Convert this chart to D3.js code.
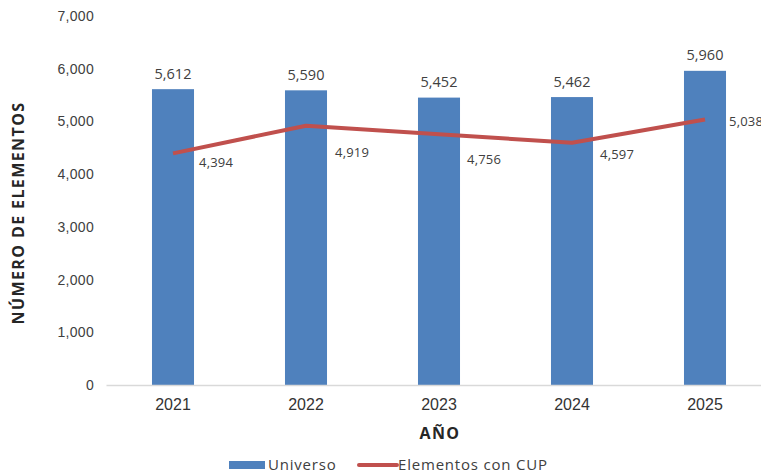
<!DOCTYPE html>
<html>
<head>
<meta charset="utf-8">
<script src="https://cdn.jsdelivr.net/npm/d3@7"></script>
<style>
  html, body { margin: 0; padding: 0; background: #ffffff; }
  svg { display: block; font-family: "Open Sans", "DejaVu Sans", sans-serif; }
</style>
</head>
<body>
<svg id="chart" width="761" height="476"></svg>
<script>
// Chart data
const years = ["2021", "2022", "2023", "2024", "2025"];
const universo = [5612, 5590, 5452, 5462, 5960];
const conCup = [4394, 4919, 4756, 4597, 5038];
const yTicks = [0, 1000, 2000, 3000, 4000, 5000, 6000, 7000];
const seriesNames = ["Universo", "Elementos con CUP"];
const axisTitles = { x: "AÑO", y: "NÚMERO DE ELEMENTOS" };

const svg = d3.select("#chart");
const fmt = d3.format(",");

const x = d3.scaleBand()
  .domain(years)
  .range([106.5, 771.5])
  .paddingInner(0.684)
  .paddingOuter(0.342);

const y = d3.scaleLinear()
  .domain([0, 7000])
  .range([385, 16]);

const blue = "#4F81BD";
const red = "#C0504D";
const textColor = "#404040";

// Y axis (labels only)
const yAxis = svg.append("g")
  .attr("transform", "translate(94,0)")
  .call(d3.axisLeft(y).tickValues(yTicks).tickFormat(fmt).tickSize(0).tickPadding(0));
yAxis.select(".domain").remove();
yAxis.selectAll("text")
  .attr("fill", textColor)
  .style("font-size", "14px")
  .style("letter-spacing", "0.3px");

// Bars
svg.append("g").selectAll("rect")
  .data(years)
  .join("rect")
  .attr("x", d => x(d))
  .attr("width", x.bandwidth())
  .attr("y", (d, i) => y(universo[i]))
  .attr("height", (d, i) => y(0) - y(universo[i]))
  .attr("fill", blue);

// X axis baseline and labels
const xAxis = svg.append("g")
  .attr("transform", `translate(0,${y(0)})`)
  .call(d3.axisBottom(x).tickSize(0).tickPadding(14));
xAxis.select(".domain")
  .attr("stroke", "#d9d9d9")
  .attr("stroke-width", 1.3)
  .attr("d", `M106.5,0.5H761`);
xAxis.selectAll("text")
  .attr("fill", "#333333")
  .style("font-size", "16px")
  .style("font-weight", "normal");

// Bar value labels
svg.append("g").selectAll("text")
  .data(years)
  .join("text")
  .attr("x", d => x(d) + x.bandwidth() / 2)
  .attr("y", (d, i) => y(universo[i]) - 10.5)
  .attr("text-anchor", "middle")
  .attr("fill", textColor)
  .style("font-size", "14.5px")
  .text((d, i) => fmt(universo[i]));

// Line series
const line = d3.line()
  .x((d, i) => x(years[i]) + x.bandwidth() / 2)
  .y(d => y(d));
svg.append("path")
  .datum(conCup)
  .attr("d", line)
  .attr("fill", "none")
  .attr("stroke", red)
  .attr("stroke-width", 4)
  .attr("stroke-linejoin", "round");

// Line value labels, each nudged right of and below its point
const labelDx = [26, 29, 28, 28, 24];
const labelDy = [14, 31, 30, 16, 7];
svg.append("g").selectAll("text")
  .data(conCup)
  .join("text")
  .attr("x", (d, i) => x(years[i]) + x.bandwidth() / 2 + labelDx[i])
  .attr("y", (d, i) => y(d) + labelDy[i])
  .attr("fill", textColor)
  .style("font-size", "13px")
  .style("letter-spacing", "0.2px")
  .text(d => fmt(d));

// Axis titles
svg.append("text")
  .attr("x", 440)
  .attr("y", 439)
  .attr("text-anchor", "middle")
  .attr("fill", "#262626")
  .style("font-size", "16px")
  .style("font-weight", "bold")
  .style("letter-spacing", "1.4px")
  .text(axisTitles.x);

svg.append("text")
  .attr("transform", "translate(24,213) rotate(-90)")
  .attr("text-anchor", "middle")
  .attr("fill", "#262626")
  .style("font-size", "16px")
  .style("font-weight", "bold")
  .style("letter-spacing", "1.4px")
  .text(axisTitles.y);

// Legend
const legend = svg.append("g");
legend.append("rect")
  .attr("x", 229).attr("y", 461).attr("width", 36).attr("height", 8)
  .attr("fill", blue);
legend.append("text")
  .attr("x", 268).attr("y", 470)
  .attr("fill", textColor)
  .style("font-size", "15px")
  .style("letter-spacing", "0.8px")
  .text(seriesNames[0]);
legend.append("line")
  .attr("x1", 359).attr("x2", 397).attr("y1", 465).attr("y2", 465)
  .attr("stroke", red).attr("stroke-width", 4).attr("stroke-linecap", "round");
legend.append("text")
  .attr("x", 398).attr("y", 470)
  .attr("fill", textColor)
  .style("font-size", "15px")
  .style("letter-spacing", "0.8px")
  .text(seriesNames[1]);
</script>
</body>
</html>
